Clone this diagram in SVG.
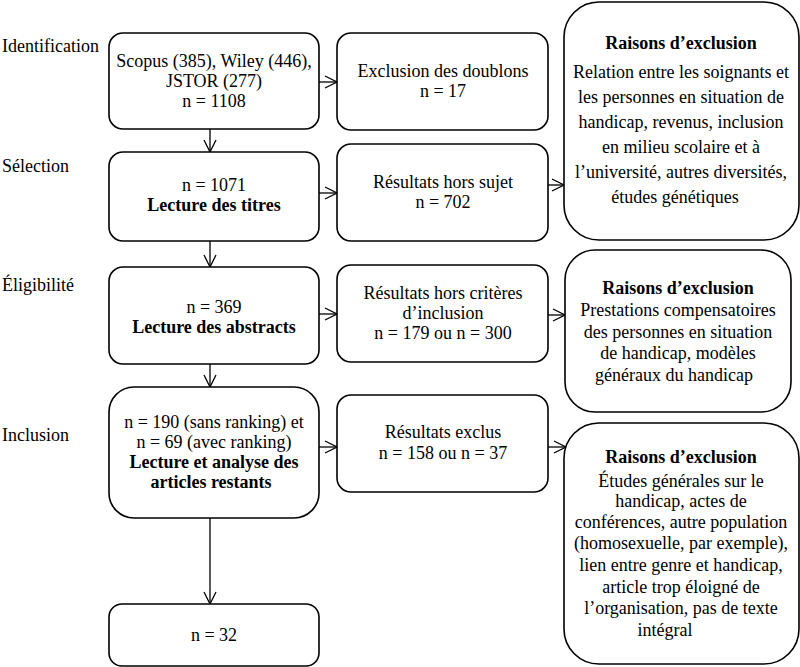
<svg xmlns="http://www.w3.org/2000/svg" width="800" height="667" viewBox="0 0 800 667">
<defs>
<style>
text{font-family:"Liberation Serif","Times New Roman",serif;font-size:18px;fill:#000;}
.c{text-anchor:middle;}
.b{font-weight:bold;}
.box{fill:#fff;stroke:#000;stroke-width:1.6;}
.con{fill:none;stroke:#000;stroke-width:1.3;marker-end:url(#arr);}
</style>
<marker id="arr" viewBox="0 0 14 14" refX="13" refY="7" markerWidth="14" markerHeight="14" markerUnits="userSpaceOnUse" orient="auto">
<path d="M1,1 L13,7 L1,13" fill="none" stroke="#000" stroke-width="1.3"/>
</marker>
</defs>
<rect width="800" height="667" fill="#fff"/>
<g id="phases">
<text x="2" y="52">Identification</text>
<text x="2" y="172">Sélection</text>
<text x="2" y="291">Éligibilité</text>
<text x="2" y="441">Inclusion</text>
</g>
<g id="connectors">
<line class="con" x1="210" y1="129" x2="210" y2="152"/>
<line class="con" x1="210" y1="241" x2="210" y2="267"/>
<line class="con" x1="210" y1="364" x2="210" y2="387"/>
<line class="con" x1="210" y1="518" x2="210" y2="604"/>
<line class="con" x1="319" y1="82" x2="337" y2="82"/>
<line class="con" x1="319" y1="193" x2="337" y2="193"/>
<line class="con" x1="319" y1="314" x2="337" y2="314"/>
<line class="con" x1="319" y1="447" x2="337" y2="447"/>
<line class="con" x1="548" y1="185" x2="564" y2="185"/>
<line class="con" x1="548" y1="315" x2="565" y2="315"/>
<line class="con" x1="548" y1="447" x2="566" y2="447"/>
</g>
<g id="n1">
<rect class="box" x="109" y="33" width="210" height="96" rx="14"/>
<text class="c" x="214" y="67">Scopus (385), Wiley (446),</text>
<text class="c" x="214" y="87">JSTOR (277)</text>
<text class="c" x="214" y="107">n = 1108</text>
</g>
<g id="n2">
<rect class="box" x="109" y="152" width="210" height="89" rx="14"/>
<text class="c" x="214" y="191">n = 1071</text>
<text class="c b" x="214" y="211">Lecture des titres</text>
</g>
<g id="n3">
<rect class="box" x="109" y="267" width="210" height="97" rx="14"/>
<text class="c" x="214" y="313">n = 369</text>
<text class="c b" x="214" y="333">Lecture des abstracts</text>
</g>
<g id="n4">
<rect class="box" x="109" y="387" width="210" height="131" rx="25"/>
<text class="c" x="214" y="428">n = 190 (sans ranking) et</text>
<text class="c" x="214" y="448">n = 69 (avec ranking)</text>
<text class="c b" x="214" y="468">Lecture et analyse des</text>
<text class="c b" x="211" y="488">articles restants</text>
</g>
<g id="n5">
<rect class="box" x="109" y="604" width="210" height="62" rx="13"/>
<text class="c" x="214" y="641">n = 32</text>
</g>
<g id="m1">
<rect class="box" x="337" y="33" width="211" height="97" rx="14"/>
<text class="c" x="443" y="77">Exclusion des doublons</text>
<text class="c" x="443" y="97">n = 17</text>
</g>
<g id="m2">
<rect class="box" x="337" y="144" width="211" height="97" rx="14"/>
<text class="c" x="443" y="188">Résultats hors sujet</text>
<text class="c" x="443" y="208">n = 702</text>
</g>
<g id="m3">
<rect class="box" x="337" y="265" width="211" height="97" rx="14"/>
<text class="c" x="443" y="299">Résultats hors critères</text>
<text class="c" x="443" y="319">d’inclusion</text>
<text class="c" x="443" y="339">n = 179 ou n = 300</text>
</g>
<g id="m4">
<rect class="box" x="337" y="395" width="211" height="97" rx="14"/>
<text class="c" x="443" y="438">Résultats exclus</text>
<text class="c" x="443" y="459">n = 158 ou n = 37</text>
</g>
<g id="r1">
<rect class="box" x="564" y="2" width="235" height="238" rx="35"/>
<text class="c b" x="681" y="49">Raisons d’exclusion</text>
<text class="c" x="681" y="78">Relation entre les soignants et</text>
<text class="c" x="681" y="103">les personnes en situation de</text>
<text class="c" x="681" y="128">handicap, revenus, inclusion</text>
<text class="c" x="681" y="153">en milieu scolaire et à</text>
<text class="c" x="681" y="178">l’université, autres diversités,</text>
<text class="c" x="675" y="203">études génétiques</text>
</g>
<g id="r2">
<rect class="box" x="565" y="250" width="226" height="162" rx="30"/>
<text class="c b" x="678" y="294">Raisons d’exclusion</text>
<text class="c" x="678" y="316">Prestations compensatoires</text>
<text class="c" x="678" y="338">des personnes en situation</text>
<text class="c" x="678" y="359">de handicap, modèles</text>
<text class="c" x="674" y="381">généraux du handicap</text>
</g>
<g id="r3">
<rect class="box" x="564" y="423" width="235" height="241" rx="35"/>
<text class="c b" x="681" y="463">Raisons d’exclusion</text>
<text class="c" x="681" y="487">Études générales sur le</text>
<text class="c" x="681" y="507">handicap, actes de</text>
<text class="c" x="681" y="528">conférences, autre population</text>
<text class="c" x="681" y="549">(homosexuelle, par exemple),</text>
<text class="c" x="681" y="571">lien entre genre et handicap,</text>
<text class="c" x="681" y="593">article trop éloigné de</text>
<text class="c" x="681" y="614">l’organisation, pas de texte</text>
<text class="c" x="665" y="636">intégral</text>
</g>
</svg>
